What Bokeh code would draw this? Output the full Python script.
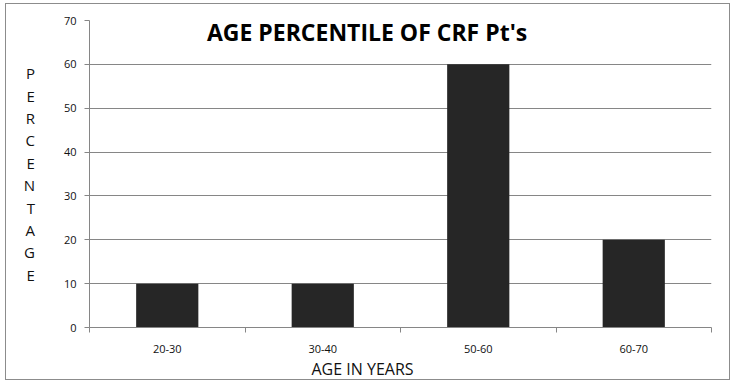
from bokeh.plotting import figure
from bokeh.models import (ColumnDataSource, Range1d, FixedTicker, LinearAxis,
                          SingleIntervalTicker, Label, Title)
from bokeh.embed import file_html
from bokeh.resources import INLINE

categories = ["20-30", "30-40", "50-60", "60-70"]
percentages = [10, 10, 60, 20]
y_ticks_interval = 10
title_text = "AGE PERCENTILE OF CRF Pt's"
x_label = "AGE IN YEARS"
y_label = "PERCENTAGE"

n = len(categories)
centers = [i + 0.5 for i in range(n)]
src = ColumnDataSource(dict(x=centers, cat=categories, pct=percentages))

p = figure(x_range=Range1d(0, n), y_range=Range1d(0, 70),
           frame_width=622, frame_height=307,
           min_border_left=83, min_border_right=18,
           min_border_top=16, min_border_bottom=52,
           x_axis_location=None, y_axis_location=None,
           output_backend="svg", toolbar_location=None)
p.styles = {"border": "1px solid #8c8c8c", "margin-left": "5px", "margin-top": "3px"}
p.outline_line_color = None
p.background_fill_color = "white"
p.border_fill_color = "white"

p.vbar(x="x", top="pct", width=0.4, source=src,
       fill_color="#262626", line_color=None)

# grid
p.xgrid.visible = False
p.ygrid.grid_line_color = "#868686"
p.ygrid.grid_line_width = 1
p.ygrid.ticker = SingleIntervalTicker(interval=y_ticks_interval)

# y axis
yax = LinearAxis(ticker=SingleIntervalTicker(interval=y_ticks_interval))
yax.axis_line_color = "#868686"
yax.major_tick_line_color = "#868686"
yax.major_tick_in = 0
yax.major_tick_out = 5
yax.minor_tick_line_color = None
yax.major_label_text_font = "Open Sans"
yax.major_label_text_font_size = "11px"
yax.major_label_text_color = "#111111"
yax.major_label_standoff = 8
yax.axis_label = "\n".join(list(y_label))
yax.axis_label_orientation = "horizontal"
yax.axis_label_text_font = "Open Sans"
yax.axis_label_text_font_style = "normal"
yax.axis_label_text_font_size = "15px"
yax.axis_label_text_line_height = 1.12
yax.axis_label_text_color = "#111111"
yax.axis_label_standoff = 26
p.add_layout(yax, "left")

# x axis: labels at category centres, tick marks at category boundaries
xax = LinearAxis(ticker=FixedTicker(ticks=centers,
                                    minor_ticks=list(range(n + 1))))
xax.major_label_overrides = {c: lab for c, lab in zip(centers, categories)}
xax.axis_line_color = "#868686"
xax.major_tick_line_color = None
xax.minor_tick_line_color = "#868686"
xax.minor_tick_in = 0
xax.minor_tick_out = 5
xax.major_label_text_font = "Open Sans"
xax.major_label_text_font_size = "11px"
xax.major_label_text_color = "#111111"
xax.major_label_standoff = 11
p.add_layout(xax, "below")

# x axis title (offset left as in original)
p.add_layout(Title(text=x_label, align="left", offset=222,
                   text_font="Open Sans", text_font_style="normal",
                   text_font_size="16px", text_color="#111111",
                   text_line_height=0.9, standoff=0), "below")

# chart title inside the plot area
p.add_layout(Label(x=1.785, y=67.3, text=title_text, text_align="center",
                   text_baseline="middle", text_font="Open Sans",
                   text_font_style="bold", text_font_size="23px",
                   text_color="#000000"))

open("out.html", "w").write(file_html(p, INLINE))
